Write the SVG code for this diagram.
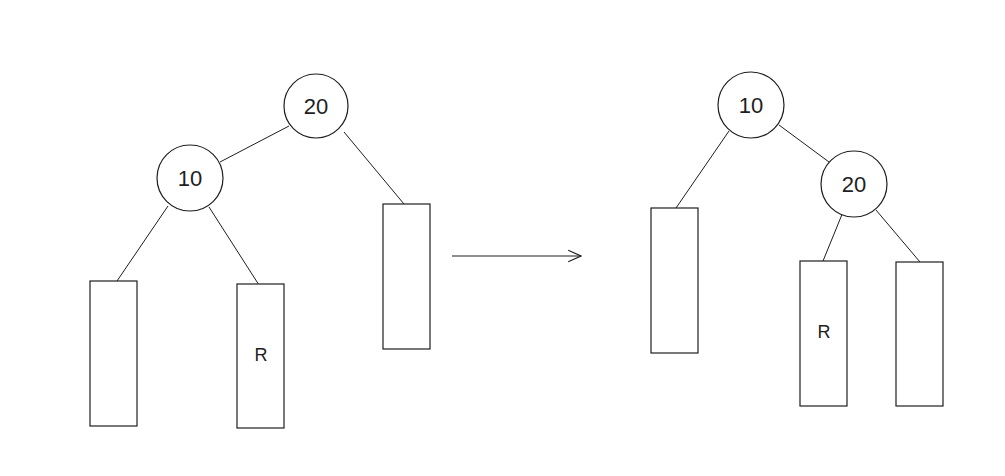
<svg xmlns="http://www.w3.org/2000/svg" width="1005" height="476" viewBox="0 0 1005 476">
<defs>
<style>
.n{fill:#fff;stroke:#1e1e1e;stroke-width:1.2}
.e{stroke:#1e1e1e;stroke-width:1;fill:none}
.t{font-family:"Liberation Sans",Arial,sans-serif;font-size:22px;fill:#1e1e1e;text-anchor:middle;dominant-baseline:central}
.r{font-size:18px}
</style>
<marker id="ah" viewBox="0 0 12 12" refX="11" refY="6" markerWidth="14" markerHeight="14" markerUnits="userSpaceOnUse" orient="auto">
<path d="M0,1 L11,6 L0,11" fill="none" stroke="#1e1e1e" stroke-width="1"/>
</marker>
</defs>
<rect width="1005" height="476" fill="#fff"/>
<g id="connectors">
<line class="e" x1="289" y1="126" x2="220" y2="162"/>
<line class="e" x1="344" y1="132" x2="404" y2="204"/>
<line class="e" x1="168" y1="206" x2="117" y2="281"/>
<line class="e" x1="209" y1="207" x2="259" y2="285"/>
<line class="e" x1="452" y1="256" x2="581" y2="256" marker-end="url(#ah)"/>
<line class="e" x1="779" y1="125" x2="829" y2="162"/>
<line class="e" x1="729" y1="131" x2="676" y2="208"/>
<line class="e" x1="843" y1="212" x2="823" y2="261"/>
<line class="e" x1="876" y1="210" x2="920" y2="262"/>
</g>
<g id="L20"><circle class="n" cx="316" cy="106" r="32"/><text class="t" x="316" y="106">20</text></g>
<g id="L10"><circle class="n" cx="190" cy="178" r="33"/><text class="t" x="190" y="178">10</text></g>
<g id="Lleft"><rect class="n" x="90" y="281" width="47" height="145"/></g>
<g id="LR"><rect class="n" x="237" y="284" width="47" height="144"/><text class="t r" x="261" y="355">R</text></g>
<g id="Lright"><rect class="n" x="383" y="204" width="47" height="145"/></g>
<g id="R10"><circle class="n" cx="751" cy="105" r="33"/><text class="t" x="751" y="105">10</text></g>
<g id="R20"><circle class="n" cx="854" cy="184" r="33"/><text class="t" x="854" y="184">20</text></g>
<g id="Rleft"><rect class="n" x="651" y="208" width="47" height="145"/></g>
<g id="RR"><rect class="n" x="800" y="261" width="47" height="145"/><text class="t r" x="824" y="332">R</text></g>
<g id="Rright"><rect class="n" x="896" y="262" width="47" height="144"/></g>
</svg>
